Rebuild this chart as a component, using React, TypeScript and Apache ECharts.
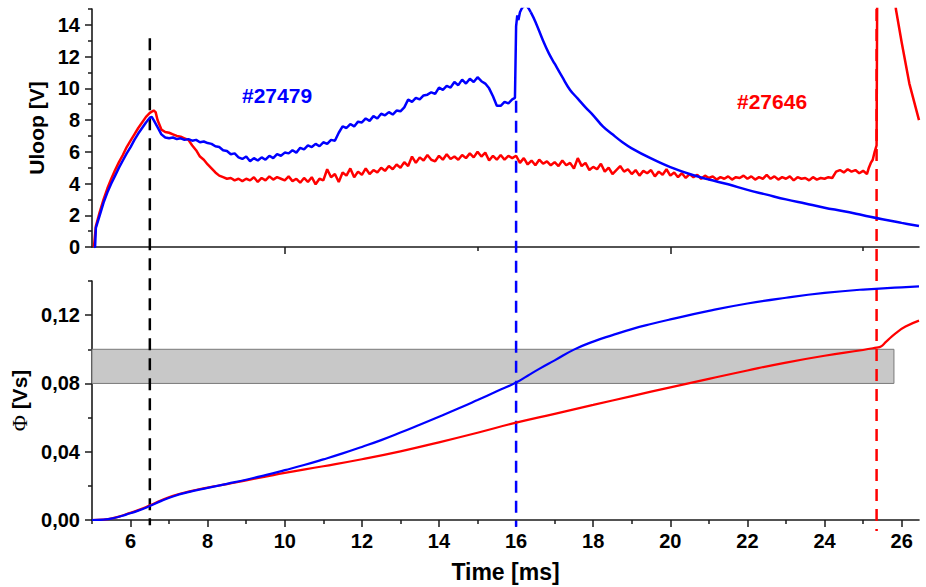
import React, { useEffect, useRef } from "react";
import * as echarts from "echarts";

const X_MIN = 5;
const X_MAX = 26.45;
const BLUE = "#0000ff";
const RED = "#ff0000";

// Uloop [V] vs time [ms], shot #27479
const uloopBlue: [number, number][] = [
  [5.05, 0], [5.08, 0], [5.1, 1.2], [5.2, 2.0], [5.3, 2.8], [5.4, 3.45], [5.5, 4.0], [5.6, 4.5], [5.7, 5.0],
  [5.8, 5.45], [5.9, 5.9], [6.0, 6.3], [6.1, 6.75], [6.2, 7.15], [6.3, 7.5], [6.4, 7.85], [6.5, 8.15],
  [6.55, 8.2], [6.6, 8.0], [6.7, 7.55], [6.8, 7.1], [6.9, 6.9], [7.0, 6.85], [7.1, 6.9], [7.2, 6.8],
  [7.3, 6.85], [7.4, 6.75], [7.5, 6.8], [7.6, 6.7], [7.7, 6.75], [7.8, 6.6], [7.9, 6.65], [8.0, 6.55],
  [8.1, 6.5], [8.2, 6.35], [8.3, 6.3], [8.4, 6.1], [8.5, 6.05], [8.6, 5.85], [8.7, 5.9], [8.8, 5.65],
  [8.9, 5.55], [9.0, 5.7], [9.1, 5.4], [9.2, 5.6], [9.3, 5.45], [9.4, 5.65], [9.5, 5.5], [9.6, 5.75],
  [9.7, 5.6], [9.8, 5.85], [9.9, 5.75], [10.0, 5.95], [10.1, 5.9], [10.2, 6.1], [10.3, 5.95], [10.4, 6.25],
  [10.5, 6.15], [10.6, 6.4], [10.7, 6.3], [10.8, 6.5], [10.9, 6.35], [11.0, 6.6], [11.1, 6.5], [11.2, 6.75],
  [11.3, 6.7], [11.4, 7.2], [11.5, 7.6], [11.6, 7.5], [11.7, 7.75], [11.8, 7.6], [11.9, 7.9], [12.0, 7.85],
  [12.1, 8.1], [12.2, 7.95], [12.3, 8.25], [12.4, 8.1], [12.5, 8.4], [12.6, 8.3], [12.7, 8.5], [12.8, 8.35],
  [12.9, 8.6], [13.0, 8.55], [13.1, 8.8], [13.2, 9.3], [13.3, 9.15], [13.4, 9.4], [13.5, 9.3], [13.6, 9.55],
  [13.7, 9.6], [13.8, 9.75], [13.9, 9.65], [14.0, 10.05], [14.1, 9.9], [14.2, 10.15], [14.3, 10.05],
  [14.4, 10.4], [14.5, 10.2], [14.6, 10.55], [14.7, 10.3], [14.8, 10.6], [14.9, 10.4], [15.0, 10.7],
  [15.1, 10.45], [15.2, 10.3], [15.3, 10.0], [15.4, 9.5], [15.5, 8.9], [15.6, 8.9], [15.7, 9.15],
  [15.8, 9.05], [15.9, 9.3], [15.97, 9.4], [16.0, 13.9], [16.03, 14.6], [16.06, 14.3], [16.1, 14.8],
  [16.15, 15.05], [16.25, 15.3], [16.32, 15.05], [16.38, 14.8], [16.5, 14.2], [16.7, 13.0], [16.85, 12.2],
  [17.0, 11.55], [17.2, 10.7], [17.4, 9.9], [17.6, 9.35], [17.8, 8.8], [18.0, 8.3], [18.25, 7.6],
  [18.5, 7.1], [18.75, 6.62], [19.0, 6.22], [19.5, 5.58], [20.0, 5.03], [20.5, 4.6], [21.0, 4.25],
  [21.5, 3.95], [22.0, 3.6], [22.5, 3.3], [23.0, 3.0], [23.5, 2.74], [24.0, 2.48], [24.5, 2.25],
  [25.0, 2.0], [25.5, 1.75], [26.0, 1.52], [26.45, 1.32],
];

// Uloop [V] vs time [ms], shot #27646
const uloopRed: [number, number][] = [
  [5.05, 0], [5.1, 1.3], [5.2, 2.2], [5.3, 3.0], [5.4, 3.7], [5.5, 4.3], [5.6, 4.85], [5.7, 5.35],
  [5.8, 5.8], [5.9, 6.3], [6.0, 6.7], [6.1, 7.1], [6.2, 7.5], [6.3, 7.85], [6.4, 8.2], [6.5, 8.45],
  [6.6, 8.6], [6.65, 8.5], [6.7, 8.0], [6.8, 7.4], [6.9, 7.25], [7.0, 7.2], [7.1, 7.1], [7.2, 7.0],
  [7.3, 6.95], [7.4, 6.85], [7.5, 6.75], [7.6, 6.4], [7.7, 6.1], [7.8, 5.7], [7.9, 5.5], [8.0, 5.2],
  [8.1, 4.95], [8.2, 4.7], [8.3, 4.5], [8.4, 4.4], [8.5, 4.3], [8.6, 4.35], [8.7, 4.2], [8.8, 4.3],
  [8.9, 4.15], [9.0, 4.3], [9.1, 4.2], [9.2, 4.4], [9.3, 4.1], [9.4, 4.35], [9.5, 4.2], [9.6, 4.45],
  [9.7, 4.25], [9.8, 4.4], [9.9, 4.3], [10.0, 4.2], [10.1, 4.45], [10.2, 4.15], [10.3, 4.3], [10.4, 4.05],
  [10.5, 4.35], [10.6, 4.1], [10.7, 4.4], [10.8, 3.95], [10.9, 4.3], [11.0, 4.2], [11.1, 4.9], [11.2, 4.4],
  [11.3, 4.6], [11.4, 4.1], [11.5, 4.7], [11.6, 4.5], [11.7, 4.95], [11.8, 4.4], [11.9, 4.75], [12.0, 4.55],
  [12.1, 4.95], [12.2, 4.6], [12.3, 4.85], [12.4, 4.7], [12.5, 5.0], [12.6, 4.8], [12.7, 5.1], [12.8, 4.9],
  [12.9, 5.2], [13.0, 5.0], [13.1, 5.35], [13.2, 5.1], [13.3, 5.7], [13.4, 5.3], [13.5, 5.65], [13.6, 5.45],
  [13.7, 5.8], [13.8, 5.5], [13.9, 5.4], [14.0, 5.75], [14.1, 5.5], [14.2, 5.85], [14.3, 5.55], [14.4, 5.7],
  [14.5, 5.5], [14.6, 5.8], [14.7, 5.6], [14.8, 5.9], [14.9, 5.65], [15.0, 6.0], [15.1, 5.7], [15.2, 5.95],
  [15.3, 5.45], [15.4, 5.75], [15.5, 5.5], [15.6, 5.8], [15.7, 5.5], [15.8, 5.75], [15.9, 5.6], [16.0, 5.75],
  [16.1, 5.3], [16.2, 5.6], [16.3, 5.2], [16.4, 5.45], [16.5, 5.15], [16.6, 5.5], [16.7, 5.25], [16.8, 5.4],
  [16.9, 5.15], [17.0, 5.35], [17.1, 5.1], [17.2, 5.45], [17.3, 5.15], [17.4, 5.3], [17.5, 4.95], [17.6, 5.6],
  [17.7, 5.1], [17.8, 5.3], [17.9, 4.85], [18.0, 5.05], [18.1, 4.9], [18.2, 5.25], [18.3, 4.75], [18.4, 5.0],
  [18.5, 4.6], [18.6, 4.85], [18.7, 5.1], [18.8, 4.75], [18.9, 4.9], [19.0, 4.6], [19.1, 4.85], [19.2, 4.5],
  [19.3, 4.8], [19.4, 4.65], [19.5, 4.85], [19.6, 4.45], [19.7, 4.75], [19.8, 4.55], [19.9, 4.9], [20.0, 4.5],
  [20.1, 4.7], [20.2, 4.4], [20.3, 4.65], [20.4, 4.35], [20.5, 4.6], [20.6, 4.4], [20.7, 4.55], [20.8, 4.3],
  [20.9, 4.5], [21.0, 4.35], [21.1, 4.45], [21.2, 4.25], [21.3, 4.4], [21.4, 4.3], [21.5, 4.45], [21.6, 4.25],
  [21.7, 4.4], [21.8, 4.35], [21.9, 4.5], [22.0, 4.3], [22.1, 4.45], [22.2, 4.25], [22.3, 4.4], [22.4, 4.3],
  [22.5, 4.55], [22.6, 4.3], [22.7, 4.45], [22.8, 4.25], [22.9, 4.4], [23.0, 4.3], [23.1, 4.45], [23.2, 4.2],
  [23.3, 4.4], [23.4, 4.3], [23.5, 4.35], [23.6, 4.2], [23.7, 4.4], [23.8, 4.25], [23.9, 4.35], [24.0, 4.3],
  [24.1, 4.4], [24.2, 4.35], [24.3, 4.75], [24.4, 4.85], [24.5, 4.7], [24.6, 4.9], [24.7, 4.75], [24.8, 4.85],
  [24.9, 4.65], [25.0, 4.8], [25.1, 4.6], [25.15, 5.0], [25.2, 5.3], [25.25, 5.5], [25.3, 6.0], [25.35, 6.4],
  [25.38, 25], [25.4, 30], [25.6, 26], [25.8, 16.8], [25.85, 15.0], [26.0, 12.9], [26.2, 10.3], [26.45, 8.0],
];

// Flux [Vs] vs time [ms]
const phiBlue: [number, number][] = [
  [5.0, 0], [5.3, 0.0002], [5.6, 0.0013], [5.9, 0.0033], [6.2, 0.0055], [6.5, 0.0082], [6.8, 0.0112],
  [7.1, 0.0138], [7.5, 0.0163], [8.0, 0.0188], [8.5, 0.0212], [9.0, 0.0236], [9.5, 0.0263], [10.0, 0.0292],
  [10.5, 0.0322], [11.0, 0.0355], [11.5, 0.039], [12.0, 0.0428], [12.5, 0.0468], [13.0, 0.0512],
  [13.5, 0.0558], [14.0, 0.0605], [14.5, 0.0653], [15.0, 0.0703], [15.5, 0.0754], [16.0, 0.0805],
  [16.3, 0.0845], [16.6, 0.0885], [17.0, 0.0935], [17.5, 0.0998], [18.0, 0.1045], [18.5, 0.1083],
  [19.0, 0.1118], [19.5, 0.1148], [20.0, 0.1175], [21.0, 0.1225], [22.0, 0.1268], [23.0, 0.1302],
  [24.0, 0.133], [25.0, 0.135], [26.0, 0.1363], [26.45, 0.1368],
];
const phiRed: [number, number][] = [
  [5.0, 0], [5.3, 0.0002], [5.6, 0.0014], [5.9, 0.0035], [6.2, 0.0058], [6.5, 0.0086], [6.8, 0.0116],
  [7.1, 0.0142], [7.5, 0.0166], [8.0, 0.019], [8.5, 0.021], [9.0, 0.0232], [9.5, 0.0254], [10.0, 0.0276],
  [11.0, 0.0315], [12.0, 0.0356], [13.0, 0.0402], [14.0, 0.0455], [15.0, 0.0511], [16.0, 0.057],
  [17.0, 0.0622], [18.0, 0.0674], [19.0, 0.0726], [20.0, 0.0777], [21.0, 0.0827], [22.0, 0.0876],
  [23.0, 0.0922], [24.0, 0.0962], [25.0, 0.0996], [25.35, 0.101], [25.45, 0.1015], [25.6, 0.1045],
  [25.85, 0.1095], [26.1, 0.1133], [26.45, 0.1168],
];

// Time after which the #27479 loop voltage decays smoothly
const blueDecayStart = 16.38;

// Ticks
const uloopTicks = [0, 2, 4, 6, 8, 10, 12, 14];
const uloopMinorTicks = [1, 3, 5, 7, 9, 11, 13, 15];
const phiTicks = [0, 0.04, 0.08, 0.12];
const phiMinorTicks = [0.02, 0.06, 0.1, 0.14];
const timeTicks = [6, 8, 10, 12, 14, 16, 18, 20, 22, 24, 26];
const timeMinorTicks = [5, 7, 9, 11, 13, 15, 17, 19, 21, 23, 25];
const topTimeTicks = [10, 20];
const topTimeMinorTicks = [15, 25];

// Shaded flux band: [tStart, tEnd, phiLow, phiHigh]
const fluxBand = [5, 25.8, 0.08, 0.1];

// Event markers (time [ms]); extents as fraction of the full two-panel height (0 = below lower axis, 1 = top)
const eventTimes = [6.5, 16.0, 25.35];
const eventColors = ["#000000", BLUE, RED];
const eventTop = [0.944, 0.824, 1.0];
const eventBottom = [0.011, 0.008, 0.0];

const shotLabels = ["#27479", "#27646"];

const FONT = '"Liberation Sans", Arial, sans-serif';
const AXIS_COLOR = "#1a1a1a";

export default function App() {
  const ref = useRef<HTMLDivElement>(null);

  useEffect(() => {
    if (!ref.current) return;
    const chart = echarts.init(ref.current, undefined, { renderer: "svg" });

    const L = 92;
    const W = 827;
    const gTop = { left: L, top: 9, width: W, height: 238 };
    const gBot = { left: L, top: 281, width: W, height: 239 };
    const gOver = { left: L, top: 9, width: W, height: 522 };

    const labelStyle = { color: "#000", fontFamily: FONT, fontWeight: "bold" as const, fontSize: 20 };
    const line = { show: true, lineStyle: { color: AXIS_COLOR, width: 1.6 } };
    const tickStyle = { color: AXIS_COLOR, width: 1.5 };

    const fmtPhi = (v: number) => v.toFixed(2).replace(".", ",");

    const blueNoisy = uloopBlue.filter((p) => p[0] <= blueDecayStart);
    const blueDecay = uloopBlue.filter((p) => p[0] >= blueDecayStart);

    const option: any = {
      animation: false,
      backgroundColor: "#ffffff",
      grid: [gTop, gBot, gTop, gBot, gOver].map((g) => ({ ...g, containLabel: false })),
      xAxis: [
        {
          gridIndex: 0, type: "value", min: X_MIN, max: X_MAX,
          axisLine: line,
          axisTick: { show: true, customValues: topTimeTicks, length: 7, lineStyle: tickStyle },
          axisLabel: { show: false },
          splitLine: { show: false },
        },
        {
          gridIndex: 1, type: "value", min: X_MIN, max: X_MAX,
          name: "Time [ms]", nameLocation: "middle", nameGap: 40,
          nameTextStyle: { color: "#000", fontFamily: FONT, fontWeight: "bold", fontSize: 23 },
          axisLine: line,
          axisTick: { show: true, customValues: timeTicks, length: 7, lineStyle: tickStyle },
          axisLabel: { ...labelStyle, customValues: timeTicks, margin: 11 },
          splitLine: { show: false },
        },
        {
          gridIndex: 2, type: "value", min: X_MIN, max: X_MAX,
          axisLine: { show: false },
          axisTick: { show: true, customValues: topTimeMinorTicks, length: 4, lineStyle: tickStyle },
          axisLabel: { show: false },
          splitLine: { show: false },
        },
        {
          gridIndex: 3, type: "value", min: X_MIN, max: X_MAX,
          axisLine: { show: false },
          axisTick: { show: true, customValues: timeMinorTicks, length: 4, lineStyle: tickStyle },
          axisLabel: { show: false },
          splitLine: { show: false },
        },
        {
          gridIndex: 4, type: "value", min: X_MIN, max: X_MAX, show: false,
        },
      ],
      yAxis: [
        {
          gridIndex: 0, type: "value", min: 0, max: 15,
          name: "Uloop [V]", nameLocation: "middle", nameRotate: 90, nameGap: 45,
          nameTextStyle: { color: "#000", fontFamily: FONT, fontWeight: "bold", fontSize: 21 },
          axisLine: line,
          axisTick: { show: true, customValues: uloopTicks, length: 7, lineStyle: tickStyle },
          axisLabel: { ...labelStyle, customValues: uloopTicks, margin: 12 },
          splitLine: { show: false },
        },
        {
          gridIndex: 1, type: "value", min: 0, max: 0.14,
          name: "{p|Φ} [Vs]", nameLocation: "middle", nameRotate: 90, nameGap: 58,
          nameTextStyle: {
            color: "#000", fontFamily: FONT, fontWeight: "bold", fontSize: 21,
            rich: { p: { fontFamily: '"Liberation Serif", "Times New Roman", serif', fontWeight: "normal", fontSize: 22, color: "#000" } },
          },
          axisLine: line,
          axisTick: { show: true, customValues: phiTicks, length: 7, lineStyle: tickStyle },
          axisLabel: { ...labelStyle, customValues: phiTicks, margin: 12, formatter: fmtPhi },
          splitLine: { show: false },
        },
        {
          gridIndex: 2, type: "value", min: 0, max: 15,
          axisLine: { show: false },
          axisTick: { show: true, customValues: uloopMinorTicks, length: 4, lineStyle: tickStyle },
          axisLabel: { show: false },
          splitLine: { show: false },
        },
        {
          gridIndex: 3, type: "value", min: 0, max: 0.14,
          axisLine: { show: false },
          axisTick: { show: true, customValues: phiMinorTicks, length: 4, lineStyle: tickStyle },
          axisLabel: { show: false },
          splitLine: { show: false },
        },
        {
          gridIndex: 4, type: "value", min: 0, max: 1, show: false,
        },
      ],
      series: [
        {
          type: "line", xAxisIndex: 1, yAxisIndex: 1, data: [], symbol: "none", z: 1,
          markArea: {
            silent: true,
            itemStyle: { color: "#c8c8c8", borderColor: "#7a7a7a", borderWidth: 1 },
            data: [[{ coord: [fluxBand[0], fluxBand[2]] }, { coord: [fluxBand[1], fluxBand[3]] }]],
          },
        },
        ...eventTimes.map((t, i) => ({
          type: "line", xAxisIndex: 4, yAxisIndex: 4, symbol: "none", z: 3, clip: false,
          lineStyle: { color: eventColors[i], width: 2.5, type: [12, 8] },
          data: [[t, eventTop[i]], [t, eventBottom[i]]],
        })),
        {
          type: "line", xAxisIndex: 0, yAxisIndex: 0, symbol: "none", z: 4, clip: true,
          lineStyle: { color: RED, width: 2.5 }, data: uloopRed,
        },
        {
          type: "line", xAxisIndex: 0, yAxisIndex: 0, symbol: "none", z: 5, clip: true,
          lineStyle: { color: BLUE, width: 2.5 }, data: blueNoisy,
        },
        {
          type: "line", xAxisIndex: 0, yAxisIndex: 0, symbol: "none", z: 5, clip: true, smooth: 0.4,
          lineStyle: { color: BLUE, width: 2.5 }, data: blueDecay,
        },
        {
          type: "line", xAxisIndex: 1, yAxisIndex: 1, symbol: "none", z: 4, smooth: 0.5,
          lineStyle: { color: RED, width: 2.2 }, data: phiRed,
        },
        {
          type: "line", xAxisIndex: 1, yAxisIndex: 1, symbol: "none", z: 5, smooth: 0.5,
          lineStyle: { color: BLUE, width: 2.2 }, data: phiBlue,
        },
      ],
      graphic: [
        {
          type: "text", left: 242, top: 85, z: 10,
          style: { text: shotLabels[0], fill: BLUE, font: `bold 21px ${FONT}` },
        },
        {
          type: "text", left: 737, top: 91, z: 10,
          style: { text: shotLabels[1], fill: RED, font: `bold 21px ${FONT}` },
        },
      ],
    };

    chart.setOption(option);
    return () => chart.dispose();
  }, []);

  return (
    <div
      ref={ref}
      style={{ position: "fixed", left: 0, top: 0, width: 926, height: 587, background: "#fff" }}
    />
  );
}
